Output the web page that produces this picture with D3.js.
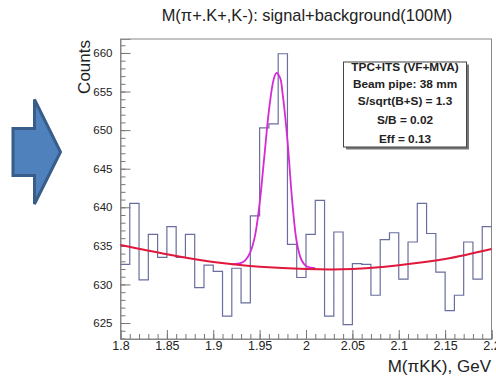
<!DOCTYPE html>
<html>
<head>
<meta charset="utf-8">
<script src="https://cdn.jsdelivr.net/npm/d3@7"></script>
<style>
    body { margin: 0; background: #fff; }
    svg { display: block; font-family: "Liberation Sans", Arial, Helvetica, sans-serif; }
</style>
</head>
<body>
<div id="graphContainer"></div>
<script>
"use strict";
// histogram contents, 40 bins of 0.01 GeV from 1.8 to 2.2
const counts = [632.6, 640.5, 630.6, 636.5, 633.5, 637.5, 633.5, 636.5, 629.6, 632.5,
    631.7, 625.9, 632.1, 627.6, 638.9, 650.3, 650.8, 659.9, 635.2, 630.9,
    636.5, 640.9, 625.9, 636.8, 624.8, 632.7, 632.6, 628.6, 635.8, 636.7,
    630.7, 635.5, 640.5, 636.6, 631.6, 626.6, 628.6, 635.5, 630.7, 637.5]
const xRange = [1.8, 2.2]
const yRange = [622.93, 661.81]

// background fit (red)
const bkgX = [1.80, 1.85, 1.90, 1.95, 2.00, 2.05, 2.10, 2.15, 2.20]
const bkgY = [635.1, 633.9, 632.9, 632.3, 632.0, 632.0, 632.5, 633.3, 634.6]

// signal + background fit (magenta)
const sigX = [1.92, 1.93, 1.935, 1.94, 1.945, 1.95, 1.955, 1.96, 1.965, 1.968,
    1.972, 1.975, 1.98, 1.985, 1.99, 1.995, 2.00, 2.01]
const sigY = [632.6, 632.8, 633.2, 634.2, 636.3, 640.5, 646.5, 652.5, 656.5, 657.4,
    656.8, 654.5, 648.7, 641.0, 635.5, 633.2, 632.4, 632.1]

const xTicks = [1.8, 1.85, 1.9, 1.95, 2.0, 2.05, 2.1, 2.15, 2.2]
const yTicks = [625, 630, 635, 640, 645, 650, 655, 660]
const infoLines = ["TPC+ITS (VF+MVA)", "Beam pipe: 38 mm", "S/sqrt(B+S) = 1.3", "S/B = 0.02", "Eff = 0.13"]

const measurements = { width: 496, height: 376, left: 120.5, right: 491.5, top: 39, bottom: 339 }

const svg = d3.select("#graphContainer").append("svg")
    .attr("width", measurements.width)
    .attr("height", measurements.height)

// the blue arrow on the left
svg.append("path")
    .attr("d", "M13,128.5 L34.5,128.5 L34.5,99.5 L60.5,152 L34.5,204 L34.5,175.5 L13,175.5 Z")
    .attr("fill", "#4F81BD")
    .attr("stroke", "#385D8A")
    .attr("stroke-width", 3)

const scaleX = d3.scaleLinear().domain(xRange).range([measurements.left, measurements.right])
const scaleY = d3.scaleLinear().domain(yRange).range([measurements.bottom, measurements.top])

// frame
svg.append("rect")
    .attr("x", measurements.left)
    .attr("y", measurements.top)
    .attr("width", measurements.right - measurements.left)
    .attr("height", measurements.bottom - measurements.top)
    .attr("fill", "none")
    .attr("stroke", "#888")

// minor ticks
const minorX = d3.range(0, 41).map(i => 1.8 + i * 0.01)
const minorY = d3.range(623, 662)
svg.append("g")
    .attr("transform", "translate(0," + measurements.bottom + ")")
    .call(d3.axisBottom(scaleX).tickValues(minorX).tickSize(-5).tickFormat(""))
    .call(g => g.select(".domain").remove())
svg.append("g")
    .attr("transform", "translate(" + measurements.left + ",0)")
    .call(d3.axisLeft(scaleY).tickValues(minorY).tickSize(-5).tickFormat(""))
    .call(g => g.select(".domain").remove())

// major ticks with labels
const xAxis = svg.append("g")
    .attr("transform", "translate(0," + measurements.bottom + ")")
    .call(d3.axisBottom(scaleX).tickValues(xTicks).tickSize(-9).tickPadding(2)
        .tickFormat(d => String(+d.toFixed(2))))
const yAxis = svg.append("g")
    .attr("transform", "translate(" + measurements.left + ",0)")
    .call(d3.axisLeft(scaleY).tickValues(yTicks).tickSize(-10).tickPadding(8))
xAxis.selectAll("text").style("font-size", "12.5px")
yAxis.selectAll("text").style("font-size", "11.5px")
svg.selectAll(".tick line").attr("stroke", "#777")
svg.selectAll(".domain").attr("stroke", "#888")
svg.selectAll(".tick text").attr("fill", "#222").style("font-family", "'Liberation Sans', Arial, sans-serif")

// histogram as a step line
const histPoints = counts.map((c, i) => [xRange[0] + i * 0.01, c])
histPoints.push([xRange[0] + counts.length * 0.01, counts[counts.length - 1]])
svg.append("path")
    .datum(histPoints)
    .attr("d", d3.line().x(d => scaleX(d[0])).y(d => scaleY(d[1])).curve(d3.curveStepAfter))
    .attr("fill", "none")
    .attr("stroke", "#6a6e9e")
    .attr("stroke-width", 1.2)

// fits
svg.append("path")
    .datum(sigX.map((x, i) => [x, sigY[i]]))
    .attr("d", d3.line().x(d => scaleX(d[0])).y(d => scaleY(d[1])).curve(d3.curveCatmullRom))
    .attr("fill", "none")
    .attr("stroke", "#d52ad6")
    .attr("stroke-width", 1.8)

svg.append("path")
    .datum(bkgX.map((x, i) => [x, bkgY[i]]))
    .attr("d", d3.line().x(d => scaleX(d[0])).y(d => scaleY(d[1])).curve(d3.curveNatural))
    .attr("fill", "none")
    .attr("stroke", "#e0183c")
    .attr("stroke-width", 2)

// info box with shadow
svg.append("rect")
    .attr("x", 346).attr("y", 64.5)
    .attr("width", 123).attr("height", 85)
    .attr("fill", "#777")
svg.append("rect")
    .attr("x", 343.5).attr("y", 62)
    .attr("width", 123).attr("height", 85)
    .attr("fill", "#fff")
    .attr("stroke", "#444")
const lineY = [67, 84, 101, 120, 139]
svg.selectAll(".info")
    .data(infoLines)
    .enter()
    .append("text")
    .attr("x", 405)
    .attr("y", (d, i) => lineY[i])
    .attr("dy", "0.36em")
    .attr("text-anchor", "middle")
    .style("font-size", "11.8px")
    .style("font-weight", "bold")
    .attr("fill", "#222")
    .text(d => d)

// titles
svg.append("text")
    .attr("x", 307)
    .attr("y", 21)
    .attr("text-anchor", "middle")
    .style("font-size", "16.4px")
    .attr("fill", "#222")
    .text("M(π+.K+,K-): signal+background(100M)")

svg.append("text")
    .attr("transform", "translate(90,40) rotate(-90)")
    .attr("text-anchor", "end")
    .style("font-size", "17px")
    .attr("fill", "#222")
    .text("Counts")

svg.append("text")
    .attr("x", 491)
    .attr("y", 372)
    .attr("text-anchor", "end")
    .style("font-size", "17px")
    .attr("fill", "#222")
    .text("M(πKK), GeV")
</script>
</body>
</html>
